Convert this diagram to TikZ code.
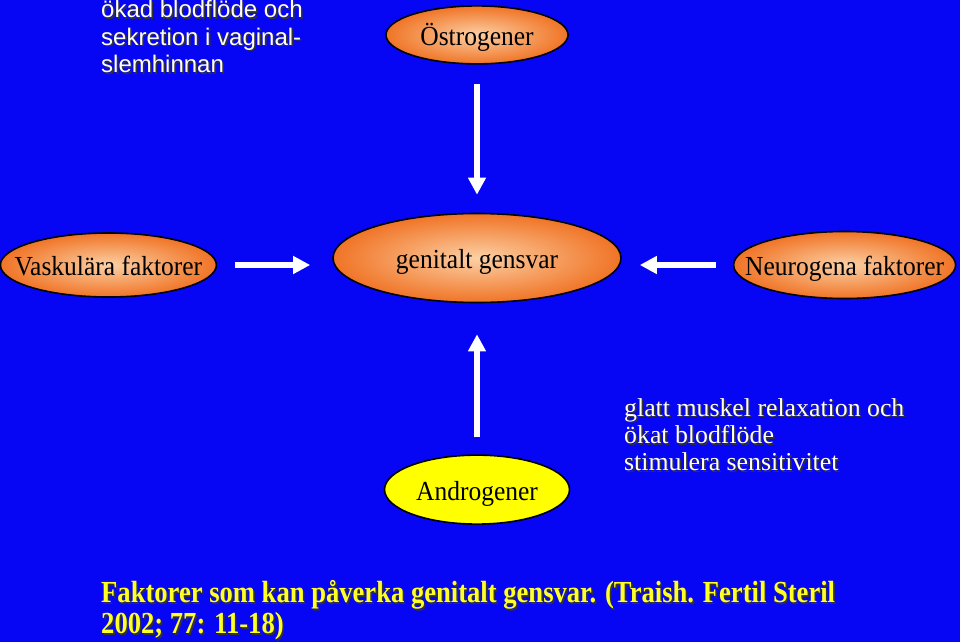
\documentclass[tikz,border=0pt]{standalone}
\usepackage{fontspec}
\setmainfont{Liberation Serif}
\setsansfont{Liberation Sans}
\usetikzlibrary{shapes.geometric, arrows.meta, positioning}
\definecolor{cSlideBg}{RGB}{6, 6, 245}
\definecolor{cOvalIn}{RGB}{252, 208, 165}
\definecolor{cOvalOut}{RGB}{240, 116, 38}
\definecolor{cAndroFill}{RGB}{255, 255, 0}
\definecolor{cNoteYellow}{RGB}{255, 255, 40}
\newcommand{\shadowed}[1]{\leavevmode\rlap{\kern1.6pt\raisebox{-1.6pt}{\textcolor{black!80}{#1}}}#1}
\newcommand{\tallbold}[1]{\scalebox{1}[1.15]{\shadowed{#1}}}
\newcommand{\ovaltext}[1]{\makebox[0pt]{\scalebox{1}[1.08]{#1}}}
\tikzset{
    x=1pt, y=-1pt,
    % --- ovaler ---
    baseOval/.style={
        ellipse, draw=black, line width=1.6pt, inner sep=0pt,
        text height=21pt, text depth=0pt,
        font=\fontsize{25.5}{28}\selectfont
    },
    factorOval/.style={
        baseOval, inner color=cOvalIn, outer color=cOvalOut
    },
    hormoneOval/.style={
        baseOval, fill=cAndroFill
    },
    % --- pilar ---
    whiteArrow/.style={
        draw=white, line width=6pt,
        -{Triangle[length=17pt, width=17pt]}
    },
    % --- text ---
    noteText/.style={
        text=white, align=left, inner sep=0pt, anchor=north west
    }
}
\begin{document}
\begin{tikzpicture}

    % bakgrund
    \useasboundingbox (0,0) rectangle (960,642);
    \fill[cSlideBg] (0,0) rectangle (960,642);

    % mitten
    \node[factorOval, minimum width=288pt, minimum height=89pt] (gensvar) at (477,258) {\ovaltext{genitalt gensvar}};

    \node[factorOval, minimum width=182pt, minimum height=58pt, above=148pt of gensvar] (ostrogen) {\ovaltext{Östrogener}};
    \node[factorOval, minimum width=216pt, minimum height=64pt, left=115pt of gensvar, yshift=-7pt] (vaskular) {\ovaltext{Vaskulära faktorer}};
    \node[factorOval, minimum width=222pt, minimum height=67pt, right=111pt of gensvar, yshift=-7pt] (neurogen) {\ovaltext{Neurogena faktorer}};
    \node[hormoneOval, minimum width=185pt, minimum height=69pt, below=151pt of gensvar] (androgen) {\ovaltext{Androgener}};

    % pilar
    \draw[whiteArrow, shorten <=19pt, shorten >=18pt] (ostrogen.south) -- (gensvar.north);
    \draw[whiteArrow, shorten <=18pt, shorten >=22pt] (vaskular.east) -- (vaskular.east -| gensvar.west);
    \draw[whiteArrow, shorten <=17pt, shorten >=18pt] (neurogen.west) -- (neurogen.west -| gensvar.east);
    \draw[whiteArrow, shorten <=17pt, shorten >=31pt] (androgen.north) -- (gensvar.south);

    % texter
    \node[noteText, font=\sffamily\fontsize{24}{27.5}\selectfont] (blodflode) at (101,0)
        {\shadowed{ökad blodflöde och}\\ \shadowed{sekretion i vaginal-}\\ \shadowed{slemhinnan}};
    \node[noteText, font=\fontsize{25.8}{27.4}\selectfont] (muskel) at (624,398)
        {\shadowed{glatt muskel relaxation och}\\ \shadowed{ökat blodflöde}\\ \shadowed{stimulera sensitivitet}};
    \node[noteText, text=cNoteYellow, font=\bfseries\fontsize{26.6}{29}\selectfont] (kalla) at (101,580)
        {\tallbold{Faktorer som kan påverka genitalt gensvar. (Traish. Fertil Steril}\\ \tallbold{2002; 77: 11-18)}};

\end{tikzpicture}
\end{document}
